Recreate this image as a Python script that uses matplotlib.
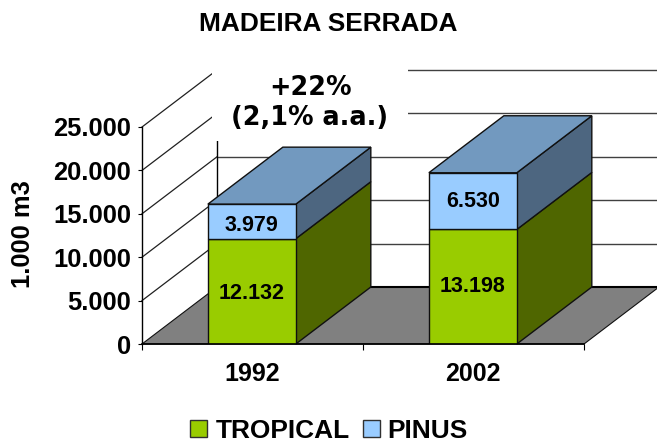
#!/usr/bin/env python3
"""Madeira serrada: stacked pseudo-3D columns, 1992 vs 2002."""

import matplotlib
matplotlib.use("Agg")
import matplotlib.pyplot as plt
from matplotlib.patches import Patch, Polygon, Rectangle

YEARS = ["1992", "2002"]
TROPICAL = [12132, 13198]
PINUS = [3979, 6530]
TROPICAL_LABELS = ["12.132", "13.198"]
PINUS_LABELS = ["3.979", "6.530"]
Y_TICKS = [0, 5000, 10000, 15000, 20000, 25000]
Y_LABELS = ["0", "5.000", "10.000", "15.000", "20.000", "25.000"]

W, H = 657, 441
DX = 75 / 221      # depth offset in category units
DY = 57 / 217 * 25000  # depth offset in value units
BAR_W = 0.398
CENTERS = [0.497, 1.497]
# labels in the 1992 column sit a little below the segment middle
NUDGE_TROP = [-1.5, 0]
NUDGE_PINUS = [-3, 0]

C_TROP, C_TROP_SIDE = "#99CC00", "#4F6600"
C_PINUS, C_PINUS_SIDE, C_PINUS_TOP = "#99CCFF", "#4D6680", "#7299BF"

plt.rcParams["font.family"] = ["Liberation Sans", "DejaVu Sans"]
plt.rcParams["font.weight"] = "bold"

fig = plt.figure(figsize=(W / 100, H / 100), dpi=100, facecolor="white")
ax = fig.add_axes([142 / W, 1 - 344 / H, 442 / W, 217 / H])
ax.set_xlim(0, 2)
ax.set_ylim(0, 25000)
ax.patch.set_visible(False)
for side in ("top", "right"):
    ax.spines[side].set_visible(False)
ax.spines["left"].set_linewidth(1.0)
ax.spines["bottom"].set_linewidth(1.2)
ax.spines["left"].set_zorder(20)
ax.spines["bottom"].set_zorder(20)


def poly(points, color, z, lw=1.0):
    ax.add_patch(Polygon(points, closed=True, facecolor=color, edgecolor="#101010",
                         linewidth=lw, zorder=z, clip_on=False))


# floor
poly([(0, 0), (2, 0), (2 + DX, DY), (DX, DY)], "#808080", 2, lw=0.8)
ax.plot([DX, 2 + DX], [DY, DY], color="black", lw=1.5, zorder=3, clip_on=False)

# walls and grid
for tick in Y_TICKS[1:]:
    ax.plot([0, DX], [tick, tick + DY], color="#202020", lw=0.9, zorder=1, clip_on=False)
    ax.plot([DX, 2 + DX], [tick + DY, tick + DY], color="#404040", lw=1.0, zorder=1,
            clip_on=False)
ax.plot([DX, DX], [DY, 25000 + DY], color="black", lw=1.0, zorder=1, clip_on=False)

# white box behind the growth note hides part of the grid
ax.add_patch(Rectangle((212 / W, 1 - 141 / H), 196 / W, 81 / H, transform=fig.transFigure,
                       facecolor="white", edgecolor="none", zorder=4, clip_on=False))
fig.text(310 / W, 1 - 103 / H, "+22%\n(2,1% a.a.)", family="DejaVu Sans", fontsize=18.4,
         weight="bold", ha="center", va="center", linespacing=1.2, zorder=30)

for i, year in enumerate(YEARS):
    center = CENTERS[i]
    left = center - BAR_W / 2
    right = left + BAR_W
    low = TROPICAL[i]
    top = low + PINUS[i]
    poly([(right, 0), (right + DX, DY), (right + DX, low + DY), (right, low)], C_TROP_SIDE, 5)
    poly([(right, low), (right + DX, low + DY), (right + DX, top + DY), (right, top)],
         C_PINUS_SIDE, 5)
    poly([(left, top), (right, top), (right + DX, top + DY), (left + DX, top + DY)],
         C_PINUS_TOP, 5)
    ax.bar(center, low, BAR_W, color=C_TROP, edgecolor="#101010", linewidth=1.0, zorder=6)
    ax.bar(center, PINUS[i], BAR_W, bottom=low, color=C_PINUS, edgecolor="#101010",
           linewidth=1.0, zorder=6)
    ax.annotate(TROPICAL_LABELS[i], (center, low * 0.5), xytext=(0, NUDGE_TROP[i]),
                textcoords="offset points", ha="center", va="center", fontsize=15.5, zorder=7)
    ax.annotate(PINUS_LABELS[i], (center, low + PINUS[i] / 2), xytext=(0, NUDGE_PINUS[i]),
                textcoords="offset points", ha="center", va="center", fontsize=15.5, zorder=7)

ax.set_yticks(Y_TICKS, Y_LABELS, fontsize=18.4)
ax.set_xticks([0, 1, 2])
ax.set_xticks(CENTERS, YEARS, minor=True, fontsize=18)
ax.set_xticklabels([])
ax.tick_params(axis="x", which="minor", length=0, pad=13)
ax.tick_params(axis="x", which="major", length=4, width=0.8)
ax.tick_params(axis="y", length=3, width=0.8, pad=5)

fig.text(23 / W, 1 - 234 / H, "1.000 m3", rotation=90, fontsize=18.4, ha="center", va="center")
fig.text(328 / W, 1 - 24 / H, "MADEIRA SERRADA", fontsize=18.9, ha="center", va="center")

handles = [Patch(facecolor=C_TROP, edgecolor="#303030"), Patch(facecolor=C_PINUS, edgecolor="#303030")]
fig.legend(handles, ["TROPICAL", "PINUS"], loc="center", bbox_to_anchor=(329 / W, 1 - 430.5 / H),
           ncol=2, frameon=False, fontsize=18.9, handlelength=0.65, handleheight=0.65,
           handletextpad=0.3, columnspacing=0.5, borderpad=0)

fig.savefig("out.png", dpi=100, facecolor="white")
plt.close(fig)
